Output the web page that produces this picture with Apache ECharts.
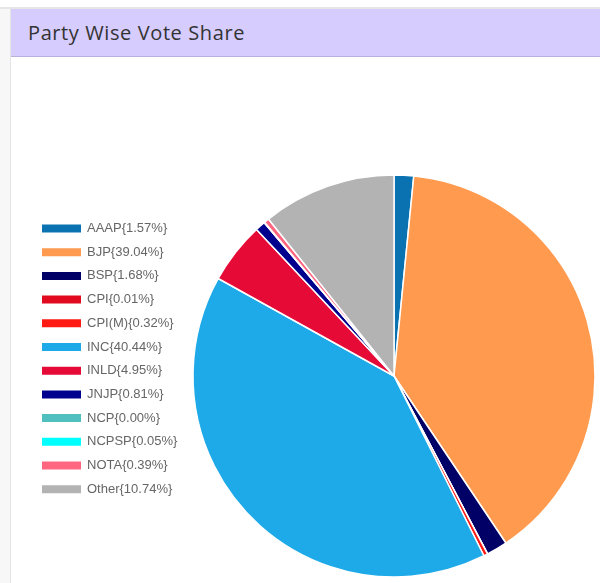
<!DOCTYPE html>
<html>
<head>
<meta charset="utf-8">
<script src="https://cdn.jsdelivr.net/npm/echarts@6/dist/echarts.min.js"></script>
<style>
  html, body { margin: 0; padding: 0; width: 600px; height: 583px; overflow: hidden; background: #f7f7f7; font-family: "Liberation Sans", Arial, sans-serif; }
  #topstrip { position: absolute; left: 0; top: 0; width: 600px; height: 7px; background: #ffffff; border-bottom: 2px solid #e6e6e6; }
  #card { position: absolute; left: 10px; top: 9px; width: 600px; height: 580px; background: #ffffff; border-left: 1px solid #e4e4e4; }
  #header { position: absolute; left: 0; top: 0; width: 100%; height: 47px; background: #d6ccfd; border-bottom: 1px solid #b9b0dc; }
  #title { position: absolute; left: 17px; top: 10px; font-family: "Open Sans", "Noto Sans", sans-serif; font-size: 20px; letter-spacing: 0.6px; color: #333333; white-space: nowrap; }
  #chart { position: absolute; left: 0; top: 48px; width: 589px; height: 526px; }
</style>
</head>
<body>
<div id="topstrip"></div>
<div id="card">
  <div id="header"><div id="title">Party Wise Vote Share</div></div>
  <div id="chart"></div>
</div>
<script>
const parties = ['AAAP', 'BJP', 'BSP', 'CPI', 'CPI(M)', 'INC', 'INLD', 'JNJP', 'NCP', 'NCPSP', 'NOTA', 'Other'];
const voteShare = [1.57, 39.04, 1.68, 0.01, 0.32, 40.44, 4.95, 0.81, 0.00, 0.05, 0.39, 10.74];
const partyColors = ['#0a72b0', '#ff9a4e', '#000066', '#e10a1e', '#ff1a14', '#1eaae8', '#e60a36', '#00008f', '#4fbfbf', '#00ffff', '#ff6680', '#b3b3b3'];

const total = voteShare.reduce((a, b) => a + b, 0);
const pctByName = {};
parties.forEach((p, i) => { pctByName[p] = (voteShare[i] / total * 100).toFixed(2); });

const chart = echarts.init(document.getElementById('chart'), null, { renderer: 'canvas' });
chart.setOption({
  animation: false,
  color: partyColors,
  legend: {
    orient: 'vertical',
    left: 24,
    top: 160,
    padding: 5,
    itemWidth: 41,
    itemHeight: 10,
    itemGap: 10.7,
    icon: 'rect',
    textStyle: { fontSize: 13, color: '#666666', fontFamily: 'Liberation Sans, Arial, sans-serif' },
    formatter: function (name) { return name + '{' + pctByName[name] + '%}'; },
    data: parties
  },
  series: [{
    type: 'pie',
    center: [383, 319],
    radius: [0, 201],
    startAngle: 90,
    clockwise: true,
    avoidLabelOverlap: false,
    label: { show: false },
    labelLine: { show: false },
    itemStyle: { borderColor: '#ffffff', borderWidth: 1.5 },
    emphasis: { scale: false },
    data: parties.map((p, i) => ({ name: p, value: voteShare[i] }))
  }]
});
</script>
</body>
</html>
